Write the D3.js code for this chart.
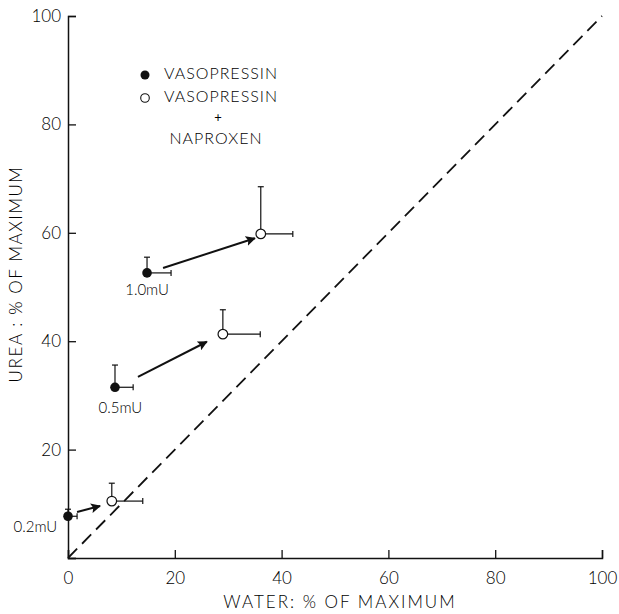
<!DOCTYPE html>
<html><head><meta charset="utf-8">
<script src="https://cdn.jsdelivr.net/npm/d3@7"></script>
<style>
body{margin:0;background:#fff;}
text{font-family:"Lato","DejaVu Sans",sans-serif;font-weight:300;fill:#000;}
</style></head>
<body><svg id="c" width="619" height="614"></svg>
<script>
// Data
const xTicks = [0,20,40,60,80,100];
const yTicks = [0,20,40,60,80,100];
const doses = ["0.2mU","0.5mU","1.0mU"];
// vasopressin alone (filled)
const vasoX = [0, 8.8, 14.8];
const vasoY = [7.7, 31.5, 52.6];
const vasoXErr = [1.7, 3.4, 4.5];
const vasoYErr = [1.3, 4.1, 2.9];
// vasopressin + naproxen (open)
const naproxX = [8.2, 29, 36.1];
const naproxY = [10.5, 41.3, 59.8];
const naproxXErr = [5.8, 7.0, 6.0];
const naproxYErr = [3.3, 4.5, 8.7];
// arrows [x1,y1,x2,y2]
const arrowX1 = [1.7, 13.1, 17.8];
const arrowY1 = [8.5, 33.4, 53.5];
const arrowX2 = [6.0, 26.0, 35.0];
const arrowY2 = [9.6, 39.9, 59.0];
// label positions (data units)
const labelX = [-6.1, 9.8, 14.8];
const labelY = [5.5, 27.5, 49.2];

const svg = d3.select("#c");
const x = d3.scaleLinear().domain([0,100]).range([68,602]);
const y = d3.scaleLinear().domain([0,100]).range([558,16]);
const ink = "#111";

// axes
const xa = svg.append("g").attr("transform","translate(0,558)")
  .call(d3.axisBottom(x).tickValues(xTicks).tickSize(-8).tickPadding(14).tickFormat(d3.format("d")));
const ya = svg.append("g").attr("transform","translate(68,0)")
  .call(d3.axisLeft(y).tickValues(yTicks).tickSize(-8).tickPadding(7).tickFormat(d=>d===0?"":d));
[xa,ya].forEach(a=>{
  a.select(".domain").attr("stroke",ink).attr("stroke-width",1.5);
  a.selectAll(".tick line").attr("stroke",ink).attr("stroke-width",1.3);
  a.selectAll(".tick text").style("font-size","17px").attr("fill","#000");
});

// diagonal
svg.append("line").attr("x1",x(0)).attr("y1",y(0)).attr("x2",x(100)).attr("y2",y(100))
  .attr("stroke",ink).attr("stroke-width",1.8).attr("stroke-dasharray","13,7");

// arrow marker
svg.append("defs").append("marker").attr("id","ah").attr("viewBox","0 0 10 10")
  .attr("refX",9).attr("refY",5).attr("markerWidth",5).attr("markerHeight",5)
  .attr("orient","auto").attr("markerUnits","strokeWidth")
  .append("path").attr("d","M0,0L10,5L0,10L2,5Z").attr("fill",ink);

doses.forEach((d,i)=>{
  svg.append("line").attr("x1",x(arrowX1[i])).attr("y1",y(arrowY1[i]))
    .attr("x2",x(arrowX2[i])).attr("y2",y(arrowY2[i]))
    .attr("stroke",ink).attr("stroke-width",2).attr("marker-end","url(#ah)");
});

function errbars(xs,ys,xe,ye){
  xs.forEach((v,i)=>{
    const cx=x(v), cy=y(ys[i]);
    const top=y(ys[i]+ye[i]), right=x(v+xe[i]);
    svg.append("line").attr("x1",cx).attr("y1",cy).attr("x2",cx).attr("y2",top).attr("stroke",ink).attr("stroke-width",1.2);
    svg.append("line").attr("x1",cx-3).attr("y1",top).attr("x2",cx+3).attr("y2",top).attr("stroke",ink).attr("stroke-width",1.2);
    svg.append("line").attr("x1",cx).attr("y1",cy).attr("x2",right).attr("y2",cy).attr("stroke",ink).attr("stroke-width",1.2);
    svg.append("line").attr("x1",right).attr("y1",cy-3).attr("x2",right).attr("y2",cy+3).attr("stroke",ink).attr("stroke-width",1.2);
  });
}
errbars(vasoX,vasoY,vasoXErr,vasoYErr);
errbars(naproxX,naproxY,naproxXErr,naproxYErr);

svg.selectAll(".f").data(vasoX).enter().append("circle")
  .attr("cx",d=>x(d)).attr("cy",(d,i)=>y(vasoY[i])).attr("r",4.8).attr("fill",ink);
svg.selectAll(".o").data(naproxX).enter().append("circle")
  .attr("cx",d=>x(d)).attr("cy",(d,i)=>y(naproxY[i])).attr("r",4.8).attr("fill","#fff")
  .attr("stroke",ink).attr("stroke-width",1.2);

doses.forEach((d,i)=>{
  svg.append("text").attr("x",x(labelX[i])).attr("y",y(labelY[i])).attr("text-anchor","middle")
    .attr("dominant-baseline","middle").style("font-size","15px").text(d);
});

// legend
svg.append("circle").attr("cx",145).attr("cy",75).attr("r",4.5).attr("fill",ink);
svg.append("circle").attr("cx",145).attr("cy",98).attr("r",4.3).attr("fill","#fff").attr("stroke",ink).attr("stroke-width",1.1);
svg.append("text").attr("x",164).attr("y",75).attr("dominant-baseline","middle").style("font-size","16px").style("letter-spacing","1px").text("VASOPRESSIN");
svg.append("text").attr("x",164).attr("y",98).attr("dominant-baseline","middle").style("font-size","16px").style("letter-spacing","1px").text("VASOPRESSIN");
svg.append("text").attr("x",218).attr("y",119).attr("text-anchor","middle").attr("dominant-baseline","middle").style("font-size","13px").style("font-weight","400").text("+");
svg.append("text").attr("x",216).attr("y",140).attr("text-anchor","middle").attr("dominant-baseline","middle").style("font-size","16px").style("letter-spacing","1px").text("NAPROXEN");

// axis titles
svg.append("text").attr("x",340).attr("y",604).attr("text-anchor","middle").attr("dominant-baseline","middle")
  .style("font-size","17px").style("letter-spacing","2px").text("WATER: % OF MAXIMUM");
svg.append("text").attr("transform","translate(18,274) rotate(-90)").attr("text-anchor","middle").attr("dominant-baseline","middle")
  .style("font-size","17px").style("letter-spacing","1.6px").text("UREA : % OF MAXIMUM");
</script></body></html>
